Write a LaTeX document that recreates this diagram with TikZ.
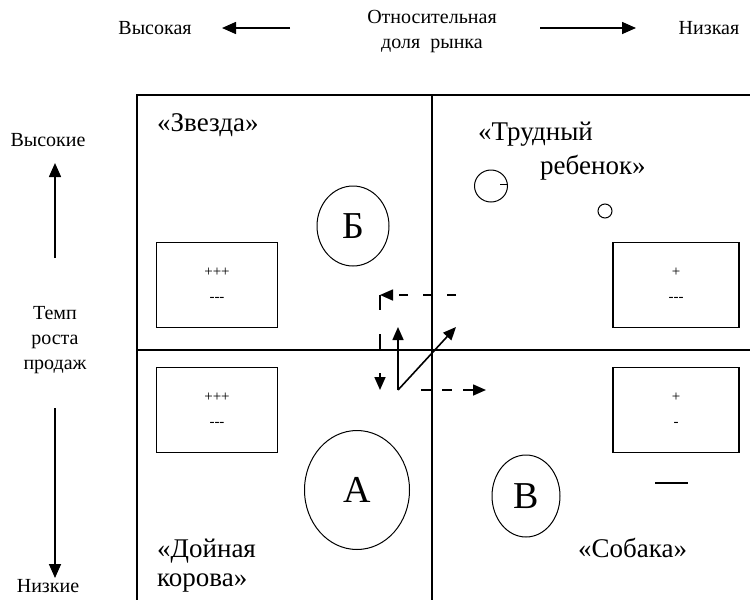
\documentclass[tikz,border=0pt]{standalone}
\usepackage{fontspec}
\setmainfont{Liberation Serif}
\usepackage{tikz}
\usetikzlibrary{arrows.meta,shapes}
\tikzstyle{frame} = [draw,line width=1.3pt]
\tikzstyle{lbl} = [inner sep=0pt,font=\fontsize{20}{25}\selectfont,align=center]
\tikzstyle{quad} = [inner sep=0pt,font=\fontsize{27}{30}\selectfont,anchor=base west]
\tikzstyle{cell} = [draw,line width=1.1pt,minimum width=121pt,minimum height=85pt,inner sep=0pt,font=\fontsize{15}{17}\selectfont,align=center]
\tikzstyle{bubble} = [draw,ellipse,line width=1pt,inner sep=0pt,font=\fontsize{38}{38}\selectfont]
\tikzstyle{axisarrow} = [draw,line width=1.6pt,-{Triangle[length=14pt,width=12pt]}]
\tikzstyle{move} = [draw,line width=1.6pt,-{Triangle[length=13pt,width=11pt]}]

\begin{document}
\begin{tikzpicture}[x=1pt,y=-1pt]
        \useasboundingbox (0,0) rectangle (750,600);
        % matrix frame
        \coordinate (tl) at (137,95);
        \coordinate (tr) at (750,95);
        \coordinate (bl) at (137,600);
        \coordinate (mt) at (432,95);
        \coordinate (mb) at (432,600);
        \coordinate (ml) at (137,350);
        \coordinate (mr) at (750,350);
        \draw[frame] (tr) -- (tl) -- (bl);
        \draw[frame] (mt) -- (mb);
        \draw[frame] (ml) -- (mr);
        % market share axis
        \node[lbl] (high) at (155,28) {Высокая};
        \node[lbl] (share) at (432,32) {Относительная\\доля\ \ рынка};
        \node[lbl] (low) at (709,28) {Низкая};
        \coordinate (sl1) at (290,28);
        \coordinate (sl2) at (222,28);
        \coordinate (sr1) at (540,28);
        \coordinate (sr2) at (636,28);
        \draw[axisarrow] (sl1) -- (sl2);
        \draw[axisarrow] (sr1) -- (sr2);
        % growth axis
        \node[lbl] (gup) at (48,140) {Высокие};
        \node[lbl] (growth) at (55,340) {Темп\\роста\\продаж};
        \node[lbl] (gdown) at (48,586) {Низкие};
        \coordinate (gu1) at (55,258);
        \coordinate (gu2) at (55,163);
        \coordinate (gd1) at (55,408);
        \coordinate (gd2) at (55,578);
        \draw[axisarrow] (gu1) -- (gu2);
        \draw[axisarrow] (gd1) -- (gd2);
        % quadrant names
        \node[quad] (star) at (157,131) {«Звезда»};
        \node[quad] (child) at (478,140) {«Трудный};
        \node[quad] (child2) at (540,174) {ребенок»};
        \node[quad] (cow) at (157,557) {«Дойная};
        \node[quad] (cow2) at (157,586) {корова»};
        \node[quad] (dog) at (578,557) {«Собака»};
        % cash boxes
        \node[cell] (bstar) at (217,285) {+++\\[8pt]-{}-{}-};
        \node[cell] (bcow) at (217,410) {+++\\[8pt]-{}-{}-};
        \node[cell,minimum width=126pt] (bchild) at (676,285) {+\\[8pt]-{}-{}-};
        \node[cell,minimum width=126pt] (bdog) at (676,410) {+\\[8pt]-};
        % products
        \node[bubble,minimum width=72pt,minimum height=80pt] (pb) at (353,226) {Б};
        \node[bubble,minimum width=105pt,minimum height=119pt] (pa) at (357,490) {А};
        \node[bubble,minimum width=68pt,minimum height=82pt] (pv) at (526,496) {В};
        \node[draw,ellipse,line width=1pt,minimum width=33pt,minimum height=32pt] (ring) at (491,186) {};
        \node[draw,circle,line width=1pt,minimum size=14pt,inner sep=0pt] (dot) at (605,211) {};
        \draw[line width=0.8pt] ([xshift=9pt,yshift=2pt]ring.center) -- ([xshift=17pt,yshift=2pt]ring.center);
        \draw[line width=1.2pt] (655,483) -- (688,483);
        % moves
        \coordinate (m0) at (398,390);
        \coordinate (mu) at (398,327);
        \coordinate (md) at (456,327);
        \coordinate (c1) at (456,295);
        \coordinate (c2) at (380,295);
        \coordinate (c3) at (380,390);
        \coordinate (r1) at (421,390);
        \coordinate (r2) at (486,390);
        \draw[move] (m0) -- (mu);
        \draw[move] (m0) -- (md);
        \draw[move,dash pattern=on 9pt off 15pt] (c1) -- (c2);
        \draw[move,dash pattern=on 15pt off 24pt] (c2) -- (c3);
        \draw[move,dash pattern=on 10pt off 11pt] (r1) -- (r2);
      \end{tikzpicture}
\end{document}
